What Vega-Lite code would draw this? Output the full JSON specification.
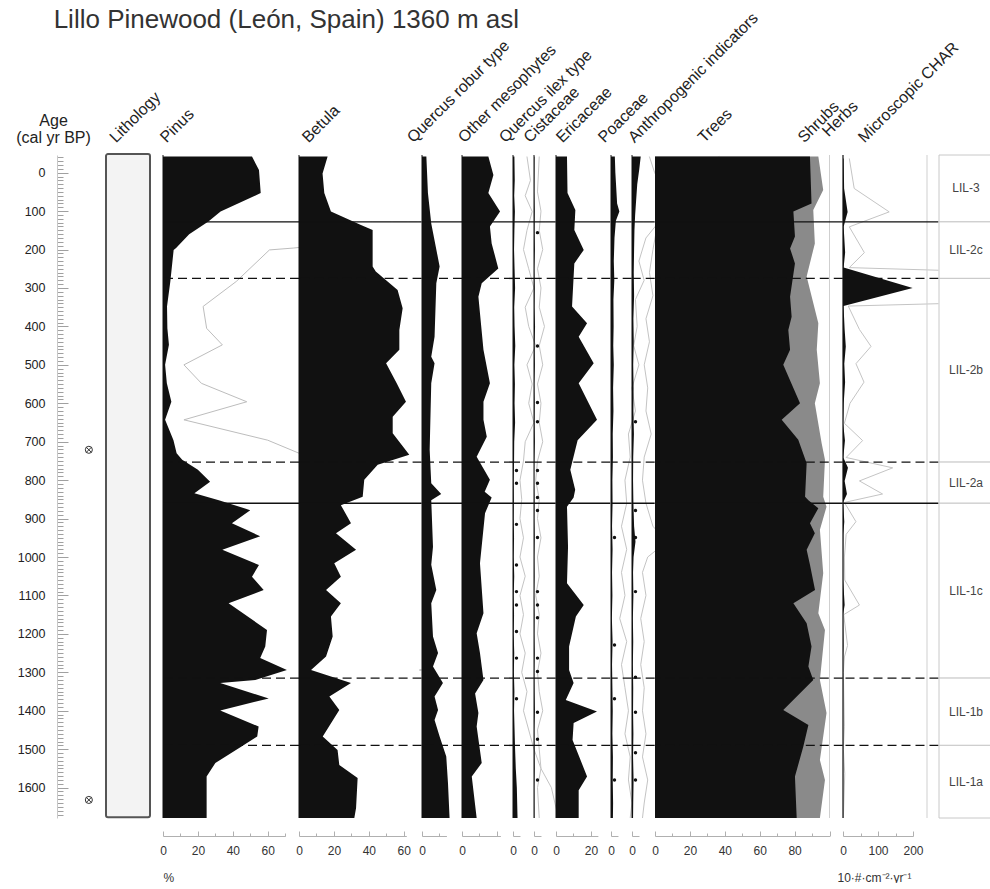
{
"$schema":"https://vega.github.io/schema/vega-lite/v6.json",
"padding":{"left":15,"top":7,"right":0,"bottom":0},
"background":"white",
"title":{"text":"Lillo Pinewood (León, Spain) 1360 m asl","anchor":"start","frame":"bounds","fontSize":26,"fontWeight":"normal","color":"#333","baseline":"alphabetic","offset":-45,"dx":38},
"datasets":{
"pollen":[
{"t":"Pinus","a":-42,"v":51},{"t":"Pinus","a":-7,"v":55},{"t":"Pinus","a":53,"v":56},{"t":"Pinus","a":101,"v":33},{"t":"Pinus","a":127,"v":26},{"t":"Pinus","a":160,"v":15},{"t":"Pinus","a":196,"v":7.5},{"t":"Pinus","a":201,"v":6.1},{"t":"Pinus","a":283,"v":4.2},{"t":"Pinus","a":348,"v":2.3},{"t":"Pinus","a":405,"v":2.5},{"t":"Pinus","a":448,"v":3.4},{"t":"Pinus","a":500,"v":1.2},{"t":"Pinus","a":548,"v":2.2},{"t":"Pinus","a":596,"v":4.8},{"t":"Pinus","a":643,"v":1.2},{"t":"Pinus","a":696,"v":6},{"t":"Pinus","a":730,"v":7.8},{"t":"Pinus","a":747,"v":11},{"t":"Pinus","a":773,"v":20},{"t":"Pinus","a":804,"v":27},{"t":"Pinus","a":834,"v":18},{"t":"Pinus","a":852,"v":32},{"t":"Pinus","a":878,"v":50},{"t":"Pinus","a":912,"v":39.5},{"t":"Pinus","a":946,"v":55.7},{"t":"Pinus","a":981,"v":34},{"t":"Pinus","a":1021,"v":55},{"t":"Pinus","a":1051,"v":51},{"t":"Pinus","a":1086,"v":57.7},{"t":"Pinus","a":1120,"v":37.6},{"t":"Pinus","a":1190,"v":59.6},{"t":"Pinus","a":1233,"v":58.6},{"t":"Pinus","a":1263,"v":55.7},{"t":"Pinus","a":1294,"v":71},{"t":"Pinus","a":1320,"v":52.9},{"t":"Pinus","a":1328,"v":32.8},{"t":"Pinus","a":1368,"v":60.6},{"t":"Pinus","a":1399,"v":32.8},{"t":"Pinus","a":1441,"v":54.8},{"t":"Pinus","a":1467,"v":54},{"t":"Pinus","a":1493,"v":45},{"t":"Pinus","a":1536,"v":30},{"t":"Pinus","a":1571,"v":25},{"t":"Pinus","a":1679,"v":25},
{"t":"Betula","a":-42,"v":16.4},{"t":"Betula","a":2,"v":13.5},{"t":"Betula","a":53,"v":14.5},{"t":"Betula","a":101,"v":18.3},{"t":"Betula","a":136,"v":35.5},{"t":"Betula","a":149,"v":42.2},{"t":"Betula","a":244,"v":42.2},{"t":"Betula","a":257,"v":44},{"t":"Betula","a":305,"v":56.5},{"t":"Betula","a":353,"v":59.4},{"t":"Betula","a":409,"v":57.5},{"t":"Betula","a":461,"v":57.5},{"t":"Betula","a":496,"v":49.9},{"t":"Betula","a":548,"v":56},{"t":"Betula","a":596,"v":61.3},{"t":"Betula","a":635,"v":53.7},{"t":"Betula","a":678,"v":53.7},{"t":"Betula","a":734,"v":63.2},{"t":"Betula","a":760,"v":45.1},{"t":"Betula","a":799,"v":37.4},{"t":"Betula","a":843,"v":36.5},{"t":"Betula","a":865,"v":24},{"t":"Betula","a":912,"v":29.8},{"t":"Betula","a":938,"v":21.2},{"t":"Betula","a":981,"v":32.7},{"t":"Betula","a":1016,"v":20.2},{"t":"Betula","a":1051,"v":24},{"t":"Betula","a":1086,"v":15.5},{"t":"Betula","a":1120,"v":24},{"t":"Betula","a":1155,"v":18.3},{"t":"Betula","a":1207,"v":19.3},{"t":"Betula","a":1259,"v":15.5},{"t":"Betula","a":1294,"v":6.9},{"t":"Betula","a":1328,"v":29.8},{"t":"Betula","a":1363,"v":17.4},{"t":"Betula","a":1398,"v":23.1},{"t":"Betula","a":1467,"v":13.6},{"t":"Betula","a":1502,"v":22.1},{"t":"Betula","a":1541,"v":23.1},{"t":"Betula","a":1575,"v":33.6},{"t":"Betula","a":1653,"v":32.7},{"t":"Betula","a":1679,"v":31.7},
{"t":"Qrob","a":-42,"v":2.5},{"t":"Qrob","a":53,"v":3.4},{"t":"Qrob","a":132,"v":5.3},{"t":"Qrob","a":244,"v":10.1},{"t":"Qrob","a":288,"v":8.2},{"t":"Qrob","a":427,"v":7.2},{"t":"Qrob","a":479,"v":5.3},{"t":"Qrob","a":496,"v":7.2},{"t":"Qrob","a":548,"v":5.3},{"t":"Qrob","a":721,"v":4.4},{"t":"Qrob","a":808,"v":5.3},{"t":"Qrob","a":836,"v":11},{"t":"Qrob","a":852,"v":5.3},{"t":"Qrob","a":973,"v":6.3},{"t":"Qrob","a":1020,"v":5.3},{"t":"Qrob","a":1086,"v":8.2},{"t":"Qrob","a":1120,"v":5.3},{"t":"Qrob","a":1207,"v":6.3},{"t":"Qrob","a":1250,"v":9.2},{"t":"Qrob","a":1285,"v":6.3},{"t":"Qrob","a":1328,"v":12},{"t":"Qrob","a":1363,"v":7.2},{"t":"Qrob","a":1398,"v":9.2},{"t":"Qrob","a":1424,"v":7.2},{"t":"Qrob","a":1467,"v":10.1},{"t":"Qrob","a":1519,"v":13.9},{"t":"Qrob","a":1589,"v":14.9},{"t":"Qrob","a":1679,"v":15.8},
{"t":"Meso","a":-42,"v":15.1},{"t":"Meso","a":6,"v":18},{"t":"Meso","a":53,"v":15.1},{"t":"Meso","a":101,"v":21.8},{"t":"Meso","a":140,"v":16},{"t":"Meso","a":184,"v":17},{"t":"Meso","a":249,"v":20.8},{"t":"Meso","a":288,"v":11.3},{"t":"Meso","a":323,"v":9.4},{"t":"Meso","a":461,"v":12.3},{"t":"Meso","a":548,"v":16},{"t":"Meso","a":596,"v":12.3},{"t":"Meso","a":643,"v":12.3},{"t":"Meso","a":687,"v":14.2},{"t":"Meso","a":739,"v":8.4},{"t":"Meso","a":799,"v":16},{"t":"Meso","a":830,"v":13},{"t":"Meso","a":845,"v":17},{"t":"Meso","a":886,"v":13.2},{"t":"Meso","a":1016,"v":10.3},{"t":"Meso","a":1146,"v":12.3},{"t":"Meso","a":1198,"v":8.4},{"t":"Meso","a":1250,"v":10.3},{"t":"Meso","a":1320,"v":12.3},{"t":"Meso","a":1355,"v":7.5},{"t":"Meso","a":1406,"v":9.4},{"t":"Meso","a":1441,"v":8.4},{"t":"Meso","a":1536,"v":11.3},{"t":"Meso","a":1571,"v":5.6},{"t":"Meso","a":1679,"v":8.4},
{"t":"Qilex","a":-42,"v":0.8},{"t":"Qilex","a":20,"v":1.0},{"t":"Qilex","a":60,"v":0.7},{"t":"Qilex","a":101,"v":1.1},{"t":"Qilex","a":150,"v":0.8},{"t":"Qilex","a":200,"v":0.6},{"t":"Qilex","a":250,"v":0.9},{"t":"Qilex","a":300,"v":1.2},{"t":"Qilex","a":350,"v":0.7},{"t":"Qilex","a":400,"v":0.9},{"t":"Qilex","a":450,"v":1.3},{"t":"Qilex","a":500,"v":0.8},{"t":"Qilex","a":550,"v":1.1},{"t":"Qilex","a":600,"v":0.9},{"t":"Qilex","a":650,"v":1.2},{"t":"Qilex","a":700,"v":0.7},{"t":"Qilex","a":750,"v":0.6},{"t":"Qilex","a":800,"v":0.4},{"t":"Qilex","a":850,"v":0.5},{"t":"Qilex","a":900,"v":0.4},{"t":"Qilex","a":950,"v":0.6},{"t":"Qilex","a":1000,"v":0.4},{"t":"Qilex","a":1050,"v":0.7},{"t":"Qilex","a":1100,"v":0.4},{"t":"Qilex","a":1150,"v":0.6},{"t":"Qilex","a":1200,"v":0.4},{"t":"Qilex","a":1250,"v":0.7},{"t":"Qilex","a":1300,"v":0.5},{"t":"Qilex","a":1350,"v":0.8},{"t":"Qilex","a":1400,"v":0.6},{"t":"Qilex","a":1450,"v":0.9},{"t":"Qilex","a":1500,"v":1.2},{"t":"Qilex","a":1550,"v":1.6},{"t":"Qilex","a":1600,"v":2.2},{"t":"Qilex","a":1679,"v":2.6},
{"t":"Cist","a":-42,"v":0.3},{"t":"Cist","a":50,"v":0.2},{"t":"Cist","a":100,"v":0.4},{"t":"Cist","a":150,"v":0.3},{"t":"Cist","a":200,"v":0.5},{"t":"Cist","a":250,"v":0.2},{"t":"Cist","a":300,"v":0.4},{"t":"Cist","a":350,"v":0.3},{"t":"Cist","a":400,"v":0.6},{"t":"Cist","a":450,"v":0.3},{"t":"Cist","a":500,"v":0.5},{"t":"Cist","a":550,"v":0.2},{"t":"Cist","a":600,"v":0.4},{"t":"Cist","a":650,"v":0.3},{"t":"Cist","a":700,"v":0.5},{"t":"Cist","a":750,"v":0.2},{"t":"Cist","a":800,"v":0.1},{"t":"Cist","a":850,"v":0.3},{"t":"Cist","a":900,"v":0.2},{"t":"Cist","a":950,"v":0.4},{"t":"Cist","a":1000,"v":0.2},{"t":"Cist","a":1050,"v":0.3},{"t":"Cist","a":1100,"v":0.1},{"t":"Cist","a":1150,"v":0.3},{"t":"Cist","a":1200,"v":0.2},{"t":"Cist","a":1250,"v":0.4},{"t":"Cist","a":1300,"v":0.2},{"t":"Cist","a":1350,"v":0.3},{"t":"Cist","a":1400,"v":0.5},{"t":"Cist","a":1450,"v":0.2},{"t":"Cist","a":1500,"v":0.3},{"t":"Cist","a":1550,"v":0.4},{"t":"Cist","a":1600,"v":0.2},{"t":"Cist","a":1679,"v":0.3},
{"t":"Eric","a":-42,"v":6.3},{"t":"Eric","a":53,"v":6.6},{"t":"Eric","a":97,"v":11.1},{"t":"Eric","a":149,"v":10.5},{"t":"Eric","a":201,"v":15.9},{"t":"Eric","a":236,"v":10.5},{"t":"Eric","a":348,"v":9.2},{"t":"Eric","a":392,"v":17.8},{"t":"Eric","a":427,"v":13},{"t":"Eric","a":496,"v":21.6},{"t":"Eric","a":548,"v":13},{"t":"Eric","a":643,"v":23.5},{"t":"Eric","a":696,"v":12.4},{"t":"Eric","a":773,"v":8.2},{"t":"Eric","a":825,"v":11},{"t":"Eric","a":845,"v":10.1},{"t":"Eric","a":869,"v":6.3},{"t":"Eric","a":973,"v":6.9},{"t":"Eric","a":1068,"v":6.3},{"t":"Eric","a":1125,"v":15.9},{"t":"Eric","a":1155,"v":11.4},{"t":"Eric","a":1233,"v":7.5},{"t":"Eric","a":1294,"v":7.5},{"t":"Eric","a":1328,"v":10.1},{"t":"Eric","a":1372,"v":5.6},{"t":"Eric","a":1402,"v":23.5},{"t":"Eric","a":1432,"v":10.1},{"t":"Eric","a":1476,"v":9.5},{"t":"Eric","a":1571,"v":17.8},{"t":"Eric","a":1607,"v":13},{"t":"Eric","a":1679,"v":13},
{"t":"Poac","a":-42,"v":2.2},{"t":"Poac","a":0,"v":2.5},{"t":"Poac","a":40,"v":3.0},{"t":"Poac","a":80,"v":3.5},{"t":"Poac","a":101,"v":4.8},{"t":"Poac","a":125,"v":2.8},{"t":"Poac","a":170,"v":2.0},{"t":"Poac","a":230,"v":1.6},{"t":"Poac","a":280,"v":1.9},{"t":"Poac","a":330,"v":1.4},{"t":"Poac","a":400,"v":1.5},{"t":"Poac","a":450,"v":1.3},{"t":"Poac","a":500,"v":1.6},{"t":"Poac","a":560,"v":1.2},{"t":"Poac","a":620,"v":1.4},{"t":"Poac","a":680,"v":1.0},{"t":"Poac","a":740,"v":1.1},{"t":"Poac","a":800,"v":0.8},{"t":"Poac","a":860,"v":0.9},{"t":"Poac","a":920,"v":0.6},{"t":"Poac","a":980,"v":0.9},{"t":"Poac","a":1040,"v":0.6},{"t":"Poac","a":1100,"v":0.8},{"t":"Poac","a":1160,"v":0.5},{"t":"Poac","a":1220,"v":0.9},{"t":"Poac","a":1280,"v":0.6},{"t":"Poac","a":1340,"v":0.8},{"t":"Poac","a":1400,"v":1.0},{"t":"Poac","a":1460,"v":0.8},{"t":"Poac","a":1520,"v":1.1},{"t":"Poac","a":1580,"v":1.0},{"t":"Poac","a":1640,"v":1.2},{"t":"Poac","a":1679,"v":1.1},
{"t":"Anth","a":-42,"v":5.0},{"t":"Anth","a":-10,"v":4.2},{"t":"Anth","a":30,"v":3.0},{"t":"Anth","a":70,"v":2.4},{"t":"Anth","a":110,"v":1.8},{"t":"Anth","a":150,"v":1.4},{"t":"Anth","a":200,"v":1.2},{"t":"Anth","a":260,"v":1.0},{"t":"Anth","a":320,"v":1.2},{"t":"Anth","a":380,"v":0.8},{"t":"Anth","a":440,"v":1.0},{"t":"Anth","a":500,"v":0.7},{"t":"Anth","a":560,"v":0.9},{"t":"Anth","a":620,"v":0.8},{"t":"Anth","a":680,"v":1.1},{"t":"Anth","a":740,"v":0.7},{"t":"Anth","a":800,"v":0.6},{"t":"Anth","a":860,"v":0.8},{"t":"Anth","a":920,"v":1.2},{"t":"Anth","a":960,"v":2.0},{"t":"Anth","a":1000,"v":0.9},{"t":"Anth","a":1040,"v":0.6},{"t":"Anth","a":1100,"v":0.8},{"t":"Anth","a":1160,"v":0.5},{"t":"Anth","a":1220,"v":0.7},{"t":"Anth","a":1280,"v":0.5},{"t":"Anth","a":1340,"v":0.7},{"t":"Anth","a":1400,"v":0.6},{"t":"Anth","a":1460,"v":0.8},{"t":"Anth","a":1520,"v":0.6},{"t":"Anth","a":1580,"v":0.9},{"t":"Anth","a":1640,"v":0.7},{"t":"Anth","a":1679,"v":0.6},
{"t":"T","a":-42,"v":88.8},{"t":"T","a":80,"v":89.7},{"t":"T","a":101,"v":79.3},{"t":"T","a":166,"v":80.2},{"t":"T","a":197,"v":77.4},{"t":"T","a":236,"v":80.2},{"t":"T","a":323,"v":77.4},{"t":"T","a":375,"v":78.3},{"t":"T","a":409,"v":76.4},{"t":"T","a":461,"v":77.4},{"t":"T","a":500,"v":73.5},{"t":"T","a":600,"v":83.1},{"t":"T","a":643,"v":72.6},{"t":"T","a":695,"v":82.1},{"t":"T","a":756,"v":86.9},{"t":"T","a":843,"v":86},{"t":"T","a":852,"v":87.9},{"t":"T","a":873,"v":93.6},{"t":"T","a":912,"v":88.8},{"t":"T","a":938,"v":91.6},{"t":"T","a":981,"v":86.9},{"t":"T","a":1020,"v":88.8},{"t":"T","a":1086,"v":91.7},{"t":"T","a":1120,"v":79.3},{"t":"T","a":1172,"v":86.9},{"t":"T","a":1233,"v":89.7},{"t":"T","a":1285,"v":87.9},{"t":"T","a":1320,"v":90.7},{"t":"T","a":1398,"v":73.5},{"t":"T","a":1437,"v":87.9},{"t":"T","a":1493,"v":85},{"t":"T","a":1571,"v":80.2},{"t":"T","a":1679,"v":81.2},
{"t":"TS","a":-42,"v":93.6},{"t":"TS","a":45,"v":96.4},{"t":"TS","a":97,"v":90.7},{"t":"TS","a":184,"v":91.6},{"t":"TS","a":270,"v":86.9},{"t":"TS","a":392,"v":93.6},{"t":"TS","a":461,"v":92.7},{"t":"TS","a":548,"v":94.5},{"t":"TS","a":600,"v":91.6},{"t":"TS","a":704,"v":95.5},{"t":"TS","a":747,"v":97.4},{"t":"TS","a":843,"v":96.4},{"t":"TS","a":869,"v":98.3},{"t":"TS","a":929,"v":94.5},{"t":"TS","a":1042,"v":96.4},{"t":"TS","a":1146,"v":93.6},{"t":"TS","a":1190,"v":97.4},{"t":"TS","a":1320,"v":94.5},{"t":"TS","a":1406,"v":98.3},{"t":"TS","a":1528,"v":94.5},{"t":"TS","a":1580,"v":97.4},{"t":"TS","a":1679,"v":94.5},
{"t":"CHAR","a":-37,"v":1.8},{"t":"CHAR","a":41,"v":3.2},{"t":"CHAR","a":102,"v":13.2},{"t":"CHAR","a":141,"v":1.8},{"t":"CHAR","a":208,"v":6.1},{"t":"CHAR","a":247,"v":1.8},{"t":"CHAR","a":300,"v":199},{"t":"CHAR","a":347,"v":1.5},{"t":"CHAR","a":408,"v":4.7},{"t":"CHAR","a":452,"v":8},{"t":"CHAR","a":497,"v":3.7},{"t":"CHAR","a":545,"v":6},{"t":"CHAR","a":600,"v":2},{"t":"CHAR","a":652,"v":0.4},{"t":"CHAR","a":697,"v":5.6},{"t":"CHAR","a":741,"v":0.9},{"t":"CHAR","a":768,"v":14.2},{"t":"CHAR","a":802,"v":4.7},{"t":"CHAR","a":836,"v":11.3},{"t":"CHAR","a":858,"v":0.4},{"t":"CHAR","a":908,"v":3.7},{"t":"CHAR","a":941,"v":0.9},{"t":"CHAR","a":1000,"v":0.4},{"t":"CHAR","a":1060,"v":0.5},{"t":"CHAR","a":1125,"v":4.7},{"t":"CHAR","a":1150,"v":0.2},{"t":"CHAR","a":1230,"v":1.3},{"t":"CHAR","a":1260,"v":0.4},{"t":"CHAR","a":1300,"v":0.1},{"t":"CHAR","a":1440,"v":0.4},{"t":"CHAR","a":1500,"v":0.1},{"t":"CHAR","a":1564,"v":0.5},{"t":"CHAR","a":1679,"v":0.1}
],
"dots":[
{"t":"Cist","a":156},{"t":"Cist","a":451},{"t":"Cist","a":598},{"t":"Cist","a":648},{"t":"Cist","a":775},{"t":"Cist","a":808},{"t":"Cist","a":845},{"t":"Cist","a":879},{"t":"Cist","a":949},{"t":"Cist","a":1090},{"t":"Cist","a":1125},{"t":"Cist","a":1158},{"t":"Cist","a":1263},{"t":"Cist","a":1298},{"t":"Cist","a":1404},{"t":"Cist","a":1474},{"t":"Cist","a":1580},
{"t":"Qilex","a":775},{"t":"Qilex","a":808},{"t":"Qilex","a":915},{"t":"Qilex","a":1021},{"t":"Qilex","a":1090},{"t":"Qilex","a":1125},{"t":"Qilex","a":1194},{"t":"Qilex","a":1263},{"t":"Qilex","a":1369},
{"t":"Poac","a":949},{"t":"Poac","a":1229},{"t":"Poac","a":1369},{"t":"Poac","a":1580},
{"t":"Anth","a":648},{"t":"Anth","a":879},{"t":"Anth","a":949},{"t":"Anth","a":1090},{"t":"Anth","a":1313},{"t":"Anth","a":1404},{"t":"Anth","a":1509},{"t":"Anth","a":1580}
],
"zlines":[{"a":128,"s":"solid"},{"a":275,"s":"dashed"},{"a":753,"s":"dashed"},{"a":860,"s":"solid"},{"a":1315,"s":"dashed"},{"a":1490,"s":"dashed"}],
"zones":[{"z":"LIL-3","top":-46,"bot":128,"mid":41},{"z":"LIL-2c","top":128,"bot":275,"mid":201.5},{"z":"LIL-2b","top":275,"bot":753,"mid":514},{"z":"LIL-2a","top":753,"bot":860,"mid":806.5},{"z":"LIL-1c","top":860,"bot":1315,"mid":1087.5},{"z":"LIL-1b","top":1315,"bot":1490,"mid":1402.5},{"z":"LIL-1a","top":1490,"bot":1679,"mid":1584.5}],
"dates":[{"a":721},{"a":1632}],
"lith":[{"u":"peat","top":-48.6,"bot":1677}]
},
"spacing":0,
"bounds":"flush",
"resolve":{"scale":{"x":"independent","y":"independent"}},
"hconcat":[
{"width":49,"height":663,
 "data":{"name":"dates"},
 "layer":[
  {"mark":{"type":"point","shape":"circle","filled":false,"size":50,"stroke":"#333","strokeWidth":1,"opacity":1},
   "encoding":{
    "x":{"datum":0.65,"type":"quantitative","scale":{"domain":[0,1],"nice":false},
     "axis":{"orient":"top","values":[0,0.001],"labelExpr":"datum.value > 0 ? 'Age' : '(cal yr BP)'","labelAngle":0,"labelAlign":"center","labelBaseline":"alphabetic","labelOffset":-4,"ticks":false,"domain":false,"labelFontSize":16,"labelColor":"#222","labelPadding":{"condition":{"test":"datum.value > 0","value":30},"value":13},"title":null}},
    "y":{"field":"a","type":"quantitative","scale":{"domain":[-46,1679],"nice":false,"zero":false,"reverse":true},
     "axis":{"orient":"left","tickCount":172,"format":"d","labelExpr":"datum.value % 100 === 0 ? datum.label : ''","tickSize":{"condition":{"test":"datum.value % 100 === 0","value":-11},"value":-6},"tickColor":"#a0a0a0","domainColor":"#c8c8c8","labelPadding":23,"labelFontSize":12.5,"labelColor":"#222","title":null}}
   }},
  {"mark":{"type":"point","shape":"M-0.7,-0.7L0.7,0.7M-0.7,0.7L0.7,-0.7","filled":false,"size":50,"stroke":"#333","strokeWidth":1,"opacity":1},
   "encoding":{
    "x":{"datum":0.65,"type":"quantitative"},
    "y":{"field":"a","type":"quantitative"}
   }}
 ]},
{"width":56.7,"height":663,
 "data":{"name":"lith"},
 "mark":{"type":"rect","fill":"#f3f3f3","stroke":"#555","strokeWidth":2,"cornerRadius":2},
 "encoding":{
  "x":{"field":"u","type":"nominal","scale":{"paddingInner":0,"paddingOuter":0.1443,"align":0},
   "axis":{"orient":"top","labelExpr":"'Lithology'","labelAngle":-45,"labelAlign":"left","labelBaseline":"alphabetic","labelOffset":-12,"ticks":false,"domain":false,"labelFontSize":16,"labelColor":"#222","labelPadding":12,"title":null}},
  "y":{"field":"top","type":"quantitative","scale":{"domain":[-46,1679],"nice":false,"zero":false,"reverse":true},"axis":null},
  "y2":{"field":"bot"}
 }},
{"width":136,"height":663,
 "layer":[
  {"data":{"name":"pollen"},"transform":[{"filter":"datum.t === 'Pinus'"}],"mark":{"type":"line","color":"#bdbdbd","strokeWidth":1,"clip":true},
   "encoding":{"y":{"field":"a","type":"quantitative","scale":{"domain":[-46,1679],"nice":false,"zero":false,"reverse":true},"axis":null},"x":{"field":"v","type":"quantitative","scale":{"domain":[0,1],"range":[0,17.45],"nice":false},"axis":null},"order":{"field":"a","type":"quantitative"}}},
  {"data":{"name":"pollen"},"transform":[{"filter":"datum.t === 'Pinus'"}],"mark":{"type":"area","orient":"horizontal","color":"#111","clip":true},
   "encoding":{"y":{"field":"a","type":"quantitative","scale":{"domain":[-46,1679],"nice":false,"zero":false,"reverse":true},"axis":null},"x":{"field":"v","type":"quantitative","stack":null,"scale":{"domain":[0,70],"range":[0,122.15],"nice":false},
    "axis":{"orient":"bottom","offset":18,"values":[0,10,20,30,40,50,60,70],"format":"d","labelExpr":"datum.value % 20 === 0 ? datum.label : ''","tickSize":{"condition":{"test":"datum.value % 20 === 0","value":-5},"value":-3},"labelPadding":14,"title":"%","titleAnchor":"start","titleAlign":"left","titlePadding":14}}}},
  {"data":{"name":"pollen"},"transform":[{"filter":"datum.t === 'Pinus'"},{"aggregate":[{"op":"count","as":"n"}]}],"mark":{"type":"rule","color":"#111","strokeWidth":1},
   "encoding":{"x":{"datum":0,"type":"quantitative","scale":{"domain":[0,70],"range":[0,122.15],"nice":false},
    "axis":{"orient":"top","values":[0],"labelExpr":"'Pinus'","labelAngle":-45,"labelAlign":"left","labelBaseline":"alphabetic","labelOffset":3,"ticks":false,"domain":false,"labelFontSize":16,"labelColor":"#222","labelPadding":12,"title":null}}}},
  {"data":{"name":"zlines"},"mark":{"type":"rule","color":"#111","strokeWidth":1.4},"encoding":{"y":{"field":"a","type":"quantitative","scale":{"domain":[-46,1679],"nice":false,"zero":false,"reverse":true},"axis":null},"strokeDash":{"field":"s","type":"nominal","scale":{"domain":["solid","dashed"],"range":[[1,0],[9,5]]},"legend":null}}}
 ],
 "resolve":{"scale":{"x":"independent"}}},
{"width":122.6,"height":663,
 "layer":[
  {"data":{"name":"pollen"},"transform":[{"filter":"datum.t === 'Betula'"}],"mark":{"type":"line","color":"#bdbdbd","strokeWidth":1,"clip":true},
   "encoding":{"y":{"field":"a","type":"quantitative","scale":{"domain":[-46,1679],"nice":false,"zero":false,"reverse":true},"axis":null},"x":{"field":"v","type":"quantitative","scale":{"domain":[0,1],"range":[0,17.45],"nice":false},"axis":null},"order":{"field":"a","type":"quantitative"}}},
  {"data":{"name":"pollen"},"transform":[{"filter":"datum.t === 'Betula'"}],"mark":{"type":"area","orient":"horizontal","color":"#111","clip":true},
   "encoding":{"y":{"field":"a","type":"quantitative","scale":{"domain":[-46,1679],"nice":false,"zero":false,"reverse":true},"axis":null},"x":{"field":"v","type":"quantitative","stack":null,"scale":{"domain":[0,61.5],"range":[0,107.32],"nice":false},
    "axis":{"orient":"bottom","offset":18,"values":[0,10,20,30,40,50,60],"format":"d","labelExpr":"datum.value % 20 === 0 ? datum.label : ''","tickSize":{"condition":{"test":"datum.value % 20 === 0","value":-5},"value":-3},"labelPadding":14,"title":null}}}},
  {"data":{"name":"pollen"},"transform":[{"filter":"datum.t === 'Betula'"},{"aggregate":[{"op":"count","as":"n"}]}],"mark":{"type":"rule","color":"#111","strokeWidth":1},
   "encoding":{"x":{"datum":0,"type":"quantitative","scale":{"domain":[0,61.5],"range":[0,107.32],"nice":false},
    "axis":{"orient":"top","values":[0],"labelExpr":"'Betula'","labelAngle":-45,"labelAlign":"left","labelBaseline":"alphabetic","labelOffset":9,"ticks":false,"domain":false,"labelFontSize":16,"labelColor":"#222","labelPadding":12,"title":null}}}},
  {"data":{"name":"zlines"},"mark":{"type":"rule","color":"#111","strokeWidth":1.4},"encoding":{"y":{"field":"a","type":"quantitative","scale":{"domain":[-46,1679],"nice":false,"zero":false,"reverse":true},"axis":null},"strokeDash":{"field":"s","type":"nominal","scale":{"domain":["solid","dashed"],"range":[[1,0],[9,5]]},"legend":null}}}
 ],
 "resolve":{"scale":{"x":"independent"}}},
{"width":40,"height":663,
 "layer":[
  {"data":{"name":"pollen"},"transform":[{"filter":"datum.t === 'Qrob'"}],"mark":{"type":"area","orient":"horizontal","color":"#111","clip":true},
   "encoding":{"y":{"field":"a","type":"quantitative","scale":{"domain":[-46,1679],"nice":false,"zero":false,"reverse":true},"axis":null},"x":{"field":"v","type":"quantitative","stack":null,"scale":{"domain":[0,14],"range":[0,24.43],"nice":false},
    "axis":{"orient":"bottom","offset":18,"values":[0,10],"format":"d","labelExpr":"datum.value === 0 ? datum.label : ''","tickSize":{"condition":{"test":"datum.value === 0","value":-5},"value":-3},"labelPadding":14,"title":null}}}},
  {"data":{"name":"pollen"},"transform":[{"filter":"datum.t === 'Qrob'"},{"aggregate":[{"op":"count","as":"n"}]}],"mark":{"type":"rule","color":"#111","strokeWidth":1},
   "encoding":{"x":{"datum":0,"type":"quantitative","scale":{"domain":[0,14],"range":[0,24.43],"nice":false},
    "axis":{"orient":"top","values":[0],"labelExpr":"'Quercus robur type'","labelAngle":-45,"labelAlign":"left","labelBaseline":"alphabetic","labelOffset":-9,"ticks":false,"domain":false,"labelFontSize":16,"labelColor":"#222","labelPadding":12,"title":null}}}},
  {"data":{"name":"zlines"},"mark":{"type":"rule","color":"#111","strokeWidth":1.4},"encoding":{"y":{"field":"a","type":"quantitative","scale":{"domain":[-46,1679],"nice":false,"zero":false,"reverse":true},"axis":null},"strokeDash":{"field":"s","type":"nominal","scale":{"domain":["solid","dashed"],"range":[[1,0],[9,5]]},"legend":null}}}
 ],
 "resolve":{"scale":{"x":"independent"}}},
{"width":51,"height":663,
 "layer":[
  {"data":{"name":"pollen"},"transform":[{"filter":"datum.t === 'Meso'"}],"mark":{"type":"area","orient":"horizontal","color":"#111","clip":true},
   "encoding":{"y":{"field":"a","type":"quantitative","scale":{"domain":[-46,1679],"nice":false,"zero":false,"reverse":true},"axis":null},"x":{"field":"v","type":"quantitative","stack":null,"scale":{"domain":[0,22],"range":[0,38.39],"nice":false},
    "axis":{"orient":"bottom","offset":18,"values":[0,10,20],"format":"d","labelExpr":"datum.value === 0 ? datum.label : ''","tickSize":{"condition":{"test":"datum.value % 20 === 0","value":-5},"value":-3},"labelPadding":14,"title":null}}}},
  {"data":{"name":"pollen"},"transform":[{"filter":"datum.t === 'Meso'"},{"aggregate":[{"op":"count","as":"n"}]}],"mark":{"type":"rule","color":"#111","strokeWidth":1},
   "encoding":{"x":{"datum":0,"type":"quantitative","scale":{"domain":[0,22],"range":[0,38.39],"nice":false},
    "axis":{"orient":"top","values":[0],"labelExpr":"'Other mesophytes'","labelAngle":-45,"labelAlign":"left","labelBaseline":"alphabetic","labelOffset":2,"ticks":false,"domain":false,"labelFontSize":16,"labelColor":"#222","labelPadding":12,"title":null}}}},
  {"data":{"name":"zlines"},"mark":{"type":"rule","color":"#111","strokeWidth":1.4},"encoding":{"y":{"field":"a","type":"quantitative","scale":{"domain":[-46,1679],"nice":false,"zero":false,"reverse":true},"axis":null},"strokeDash":{"field":"s","type":"nominal","scale":{"domain":["solid","dashed"],"range":[[1,0],[9,5]]},"legend":null}}}
 ],
 "resolve":{"scale":{"x":"independent"}}},
{"width":21,"height":663,
 "layer":[
  {"data":{"name":"pollen"},"transform":[{"filter":"datum.t === 'Qilex'"}],"mark":{"type":"line","color":"#c4c4c4","strokeWidth":1,"clip":false},
   "encoding":{"y":{"field":"a","type":"quantitative","scale":{"domain":[-46,1679],"nice":false,"zero":false,"reverse":true},"axis":null},"x":{"field":"v","type":"quantitative","scale":{"domain":[0,1],"range":[0,17.45],"nice":false},"axis":null},"order":{"field":"a","type":"quantitative"}}},
  {"data":{"name":"pollen"},"transform":[{"filter":"datum.t === 'Qilex'"}],"mark":{"type":"area","orient":"horizontal","color":"#111"},
   "encoding":{"y":{"field":"a","type":"quantitative","scale":{"domain":[-46,1679],"nice":false,"zero":false,"reverse":true},"axis":null},"x":{"field":"v","type":"quantitative","stack":null,"scale":{"domain":[0,4],"range":[0,6.98],"nice":false},
    "axis":{"orient":"bottom","offset":18,"values":[0],"format":"d","tickSize":-5,"labelPadding":14,"title":null}}}},
  {"data":{"name":"pollen"},"transform":[{"filter":"datum.t === 'Qilex'"},{"aggregate":[{"op":"count","as":"n"}]}],"mark":{"type":"rule","color":"#111","strokeWidth":1},
   "encoding":{"x":{"datum":0,"type":"quantitative","scale":{"domain":[0,4],"range":[0,6.98],"nice":false},
    "axis":{"orient":"top","values":[0],"labelExpr":"'Quercus ilex type'","labelAngle":-45,"labelAlign":"left","labelBaseline":"alphabetic","labelOffset":-8,"ticks":false,"domain":false,"labelFontSize":16,"labelColor":"#222","labelPadding":12,"title":null}}}},
  {"data":{"name":"dots"},"transform":[{"filter":"datum.t === 'Qilex'"}],"mark":{"type":"point","filled":true,"size":12,"color":"#111","opacity":1},
   "encoding":{"y":{"field":"a","type":"quantitative","scale":{"domain":[-46,1679],"nice":false,"zero":false,"reverse":true},"axis":null},"x":{"datum":2,"type":"quantitative","scale":{"domain":[0,4],"range":[0,6.98],"nice":false},"axis":null}}},
  {"data":{"name":"zlines"},"mark":{"type":"rule","color":"#111","strokeWidth":1.4},"encoding":{"y":{"field":"a","type":"quantitative","scale":{"domain":[-46,1679],"nice":false,"zero":false,"reverse":true},"axis":null},"strokeDash":{"field":"s","type":"nominal","scale":{"domain":["solid","dashed"],"range":[[1,0],[9,5]]},"legend":null}}}
 ],
 "resolve":{"scale":{"x":"independent"}}},
{"width":21.7,"height":663,
 "layer":[
  {"data":{"name":"pollen"},"transform":[{"filter":"datum.t === 'Cist'"}],"mark":{"type":"line","color":"#c4c4c4","strokeWidth":1,"clip":false},
   "encoding":{"y":{"field":"a","type":"quantitative","scale":{"domain":[-46,1679],"nice":false,"zero":false,"reverse":true},"axis":null},"x":{"field":"v","type":"quantitative","scale":{"domain":[0,1],"range":[0,17.45],"nice":false},"axis":null},"order":{"field":"a","type":"quantitative"}}},
  {"data":{"name":"pollen"},"transform":[{"filter":"datum.t === 'Cist'"}],"mark":{"type":"area","orient":"horizontal","color":"#111"},
   "encoding":{"y":{"field":"a","type":"quantitative","scale":{"domain":[-46,1679],"nice":false,"zero":false,"reverse":true},"axis":null},"x":{"field":"v","type":"quantitative","stack":null,"scale":{"domain":[0,4],"range":[0,6.98],"nice":false},
    "axis":{"orient":"bottom","offset":18,"values":[0],"format":"d","tickSize":-5,"labelPadding":14,"title":null}}}},
  {"data":{"name":"pollen"},"transform":[{"filter":"datum.t === 'Cist'"},{"aggregate":[{"op":"count","as":"n"}]}],"mark":{"type":"rule","color":"#111","strokeWidth":1},
   "encoding":{"x":{"datum":0,"type":"quantitative","scale":{"domain":[0,4],"range":[0,6.98],"nice":false},
    "axis":{"orient":"top","values":[0],"labelExpr":"'Cistaceae'","labelAngle":-45,"labelAlign":"left","labelBaseline":"alphabetic","labelOffset":-4.5,"ticks":false,"domain":false,"labelFontSize":16,"labelColor":"#222","labelPadding":12,"title":null}}}},
  {"data":{"name":"dots"},"transform":[{"filter":"datum.t === 'Cist'"}],"mark":{"type":"point","filled":true,"size":12,"color":"#111","opacity":1},
   "encoding":{"y":{"field":"a","type":"quantitative","scale":{"domain":[-46,1679],"nice":false,"zero":false,"reverse":true},"axis":null},"x":{"datum":2,"type":"quantitative","scale":{"domain":[0,4],"range":[0,6.98],"nice":false},"axis":null}}},
  {"data":{"name":"zlines"},"mark":{"type":"rule","color":"#111","strokeWidth":1.4},"encoding":{"y":{"field":"a","type":"quantitative","scale":{"domain":[-46,1679],"nice":false,"zero":false,"reverse":true},"axis":null},"strokeDash":{"field":"s","type":"nominal","scale":{"domain":["solid","dashed"],"range":[[1,0],[9,5]]},"legend":null}}}
 ],
 "resolve":{"scale":{"x":"independent"}}},
{"width":54.3,"height":663,
 "layer":[
  {"data":{"name":"pollen"},"transform":[{"filter":"datum.t === 'Eric'"}],"mark":{"type":"area","orient":"horizontal","color":"#111","clip":true},
   "encoding":{"y":{"field":"a","type":"quantitative","scale":{"domain":[-46,1679],"nice":false,"zero":false,"reverse":true},"axis":null},"x":{"field":"v","type":"quantitative","stack":null,"scale":{"domain":[0,24],"range":[0,41.88],"nice":false},
    "axis":{"orient":"bottom","offset":18,"values":[0,10,20],"format":"d","labelExpr":"datum.value % 20 === 0 ? datum.label : ''","tickSize":{"condition":{"test":"datum.value % 20 === 0","value":-5},"value":-3},"labelPadding":14,"title":null}}}},
  {"data":{"name":"pollen"},"transform":[{"filter":"datum.t === 'Eric'"},{"aggregate":[{"op":"count","as":"n"}]}],"mark":{"type":"rule","color":"#111","strokeWidth":1},
   "encoding":{"x":{"datum":0,"type":"quantitative","scale":{"domain":[0,24],"range":[0,41.88],"nice":false},
    "axis":{"orient":"top","values":[0],"labelExpr":"'Ericaceae'","labelAngle":-45,"labelAlign":"left","labelBaseline":"alphabetic","labelOffset":6,"ticks":false,"domain":false,"labelFontSize":16,"labelColor":"#222","labelPadding":12,"title":null}}}},
  {"data":{"name":"zlines"},"mark":{"type":"rule","color":"#111","strokeWidth":1.4},"encoding":{"y":{"field":"a","type":"quantitative","scale":{"domain":[-46,1679],"nice":false,"zero":false,"reverse":true},"axis":null},"strokeDash":{"field":"s","type":"nominal","scale":{"domain":["solid","dashed"],"range":[[1,0],[9,5]]},"legend":null}}}
 ],
 "resolve":{"scale":{"x":"independent"}}},
{"width":20.7,"height":663,
 "layer":[
  {"data":{"name":"pollen"},"transform":[{"filter":"datum.t === 'Poac'"}],"mark":{"type":"line","color":"#c4c4c4","strokeWidth":1,"clip":false},
   "encoding":{"y":{"field":"a","type":"quantitative","scale":{"domain":[-46,1679],"nice":false,"zero":false,"reverse":true},"axis":null},"x":{"field":"v","type":"quantitative","scale":{"domain":[0,1],"range":[0,17.45],"nice":false},"axis":null},"order":{"field":"a","type":"quantitative"}}},
  {"data":{"name":"pollen"},"transform":[{"filter":"datum.t === 'Poac'"}],"mark":{"type":"area","orient":"horizontal","color":"#111"},
   "encoding":{"y":{"field":"a","type":"quantitative","scale":{"domain":[-46,1679],"nice":false,"zero":false,"reverse":true},"axis":null},"x":{"field":"v","type":"quantitative","stack":null,"scale":{"domain":[0,4],"range":[0,6.98],"nice":false},
    "axis":{"orient":"bottom","offset":18,"values":[0],"format":"d","tickSize":-5,"labelPadding":14,"title":null}}}},
  {"data":{"name":"pollen"},"transform":[{"filter":"datum.t === 'Poac'"},{"aggregate":[{"op":"count","as":"n"}]}],"mark":{"type":"rule","color":"#111","strokeWidth":1},
   "encoding":{"x":{"datum":0,"type":"quantitative","scale":{"domain":[0,4],"range":[0,6.98],"nice":false},
    "axis":{"orient":"top","values":[0],"labelExpr":"'Poaceae'","labelAngle":-45,"labelAlign":"left","labelBaseline":"alphabetic","labelOffset":-7,"ticks":false,"domain":false,"labelFontSize":16,"labelColor":"#222","labelPadding":12,"title":null}}}},
  {"data":{"name":"dots"},"transform":[{"filter":"datum.t === 'Poac'"}],"mark":{"type":"point","filled":true,"size":12,"color":"#111","opacity":1},
   "encoding":{"y":{"field":"a","type":"quantitative","scale":{"domain":[-46,1679],"nice":false,"zero":false,"reverse":true},"axis":null},"x":{"datum":2,"type":"quantitative","scale":{"domain":[0,4],"range":[0,6.98],"nice":false},"axis":null}}},
  {"data":{"name":"zlines"},"mark":{"type":"rule","color":"#111","strokeWidth":1.4},"encoding":{"y":{"field":"a","type":"quantitative","scale":{"domain":[-46,1679],"nice":false,"zero":false,"reverse":true},"axis":null},"strokeDash":{"field":"s","type":"nominal","scale":{"domain":["solid","dashed"],"range":[[1,0],[9,5]]},"legend":null}}}
 ],
 "resolve":{"scale":{"x":"independent"}}},
{"width":22.7,"height":663,
 "layer":[
  {"data":{"name":"pollen"},"transform":[{"filter":"datum.t === 'Anth'"}],"mark":{"type":"line","color":"#c4c4c4","strokeWidth":1,"clip":false},
   "encoding":{"y":{"field":"a","type":"quantitative","scale":{"domain":[-46,1679],"nice":false,"zero":false,"reverse":true},"axis":null},"x":{"field":"v","type":"quantitative","scale":{"domain":[0,1],"range":[0,17.45],"nice":false},"axis":null},"order":{"field":"a","type":"quantitative"}}},
  {"data":{"name":"pollen"},"transform":[{"filter":"datum.t === 'Anth'"}],"mark":{"type":"area","orient":"horizontal","color":"#111"},
   "encoding":{"y":{"field":"a","type":"quantitative","scale":{"domain":[-46,1679],"nice":false,"zero":false,"reverse":true},"axis":null},"x":{"field":"v","type":"quantitative","stack":null,"scale":{"domain":[0,4],"range":[0,6.98],"nice":false},
    "axis":{"orient":"bottom","offset":18,"values":[0],"format":"d","tickSize":-5,"labelPadding":14,"title":null}}}},
  {"data":{"name":"pollen"},"transform":[{"filter":"datum.t === 'Anth'"},{"aggregate":[{"op":"count","as":"n"}]}],"mark":{"type":"rule","color":"#111","strokeWidth":1},
   "encoding":{"x":{"datum":0,"type":"quantitative","scale":{"domain":[0,4],"range":[0,6.98],"nice":false},
    "axis":{"orient":"top","values":[0],"labelExpr":"'Anthropogenic indicators'","labelAngle":-45,"labelAlign":"left","labelBaseline":"alphabetic","labelOffset":2,"ticks":false,"domain":false,"labelFontSize":16,"labelColor":"#222","labelPadding":12,"title":null}}}},
  {"data":{"name":"dots"},"transform":[{"filter":"datum.t === 'Anth'"}],"mark":{"type":"point","filled":true,"size":12,"color":"#111","opacity":1},
   "encoding":{"y":{"field":"a","type":"quantitative","scale":{"domain":[-46,1679],"nice":false,"zero":false,"reverse":true},"axis":null},"x":{"datum":2,"type":"quantitative","scale":{"domain":[0,4],"range":[0,6.98],"nice":false},"axis":null}}},
  {"data":{"name":"zlines"},"mark":{"type":"rule","color":"#111","strokeWidth":1.4},"encoding":{"y":{"field":"a","type":"quantitative","scale":{"domain":[-46,1679],"nice":false,"zero":false,"reverse":true},"axis":null},"strokeDash":{"field":"s","type":"nominal","scale":{"domain":["solid","dashed"],"range":[[1,0],[9,5]]},"legend":null}}}
 ],
 "resolve":{"scale":{"x":"independent"}}},
{"width":187.8,"height":663,
 "layer":[
  {"data":{"name":"pollen"},"transform":[{"filter":"datum.t === 'TS'"}],"mark":{"type":"area","orient":"horizontal","color":"#8a8a8a"},
   "encoding":{"y":{"field":"a","type":"quantitative","scale":{"domain":[-46,1679],"nice":false,"zero":false,"reverse":true},"axis":null},"x":{"field":"v","type":"quantitative","stack":null,"scale":{"domain":[0,100],"range":[0,174.5],"nice":false},
    "axis":{"orient":"bottom","offset":18,"values":[0,10,20,30,40,50,60,70,80,90,100],"format":"d","labelExpr":"datum.value % 20 === 0 && datum.value < 100 ? datum.label : ''","tickSize":{"condition":{"test":"datum.value % 20 === 0","value":-5},"value":-3},"labelPadding":14,"title":null}}}},
  {"data":{"name":"pollen"},"transform":[{"filter":"datum.t === 'T'"}],"mark":{"type":"area","orient":"horizontal","color":"#111"},
   "encoding":{"y":{"field":"a","type":"quantitative","scale":{"domain":[-46,1679],"nice":false,"zero":false,"reverse":true},"axis":null},"x":{"field":"v","type":"quantitative","stack":null,"scale":{"domain":[0,100],"range":[0,174.5],"nice":false},"axis":null}}},
  {"data":{"name":"pollen"},"transform":[{"filter":"datum.t === 'T'"},{"aggregate":[{"op":"count","as":"n"}]}],"mark":{"type":"rule","color":"#cfcfcf","strokeWidth":1},
   "encoding":{"x":{"datum":100,"type":"quantitative","scale":{"domain":[0,100],"range":[0,174.5],"nice":false},
    "axis":{"orient":"top","values":[28,85.2,99.2],"labelExpr":"datum.value < 50 ? 'Trees' : (datum.value < 90 ? 'Shrubs' : 'Herbs')","labelAngle":-45,"labelAlign":"left","labelBaseline":"alphabetic","ticks":false,"domain":false,"labelFontSize":16,"labelColor":"#222","labelPadding":{"condition":{"test":"datum.value > 95","value":18},"value":12},"title":null}}}},
  {"data":{"name":"zlines"},"mark":{"type":"rule","color":"#111","strokeWidth":1.4},"encoding":{"y":{"field":"a","type":"quantitative","scale":{"domain":[-46,1679],"nice":false,"zero":false,"reverse":true},"axis":null},"strokeDash":{"field":"s","type":"nominal","scale":{"domain":["solid","dashed"],"range":[[1,0],[9,5]]},"legend":null}}}
 ],
 "resolve":{"scale":{"x":"independent"}}},
{"width":95.5,"height":663,
 "layer":[
  {"data":{"name":"pollen"},"transform":[{"filter":"datum.t === 'CHAR'"}],"mark":{"type":"line","color":"#c4c4c4","strokeWidth":1,"clip":true},
   "encoding":{"y":{"field":"a","type":"quantitative","scale":{"domain":[-46,1679],"nice":false,"zero":false,"reverse":true},"axis":null},"x":{"field":"v","type":"quantitative","scale":{"domain":[0,20],"range":[0,70],"nice":false},"axis":null},"order":{"field":"a","type":"quantitative"}}},
  {"data":{"name":"pollen"},"transform":[{"filter":"datum.t === 'CHAR'"}],"mark":{"type":"area","orient":"horizontal","color":"#111"},
   "encoding":{"y":{"field":"a","type":"quantitative","scale":{"domain":[-46,1679],"nice":false,"zero":false,"reverse":true},"axis":null},"x":{"field":"v","type":"quantitative","stack":null,"scale":{"domain":[0,200],"range":[0,70],"nice":false},
    "axis":{"orient":"bottom","offset":18,"values":[0,50,100,150,200],"format":"d","labelExpr":"datum.value % 100 === 0 ? datum.label : ''","tickSize":{"condition":{"test":"datum.value % 100 === 0","value":-5},"value":-3},"labelPadding":14,"title":"10·#·cm⁻²·yr⁻¹","titleAnchor":"start","titleAlign":"left","titleX":-6,"titlePadding":14}}}},
  {"data":{"name":"pollen"},"transform":[{"filter":"datum.t === 'CHAR'"},{"aggregate":[{"op":"count","as":"n"}]}],"mark":{"type":"rule","color":"#111","strokeWidth":1.2},
   "encoding":{"x":{"datum":0,"type":"quantitative","scale":{"domain":[0,200],"range":[0,70],"nice":false},
    "axis":{"orient":"top","values":[0],"labelExpr":"'Microscopic CHAR'","labelAngle":-45,"labelAlign":"left","labelBaseline":"alphabetic","labelOffset":21,"ticks":false,"domain":false,"labelFontSize":16,"labelColor":"#222","labelPadding":12,"title":null}}}},
  {"data":{"name":"pollen"},"transform":[{"filter":"datum.t === 'CHAR'"},{"aggregate":[{"op":"count","as":"n"}]}],"mark":{"type":"rule","color":"#cfcfcf","strokeWidth":1},
   "encoding":{"x":{"datum":240,"type":"quantitative","scale":{"domain":[0,200],"range":[0,70],"nice":false},"axis":null}}},
  {"data":{"name":"zlines"},"mark":{"type":"rule","color":"#111","strokeWidth":1.4},"encoding":{"y":{"field":"a","type":"quantitative","scale":{"domain":[-46,1679],"nice":false,"zero":false,"reverse":true},"axis":null},"strokeDash":{"field":"s","type":"nominal","scale":{"domain":["solid","dashed"],"range":[[1,0],[9,5]]},"legend":null}}}
 ],
 "resolve":{"scale":{"x":"independent"}}},
{"width":54,"height":663,
 "data":{"name":"zones"},
 "layer":[
  {"mark":{"type":"rect","fill":"white","stroke":"#c8c8c8","strokeWidth":1},
   "encoding":{"x":{"datum":"zone","type":"nominal","scale":{"paddingInner":0,"paddingOuter":0},"axis":null},"y":{"field":"top","type":"quantitative","scale":{"domain":[-46,1679],"nice":false,"zero":false,"reverse":true},"axis":null},"y2":{"field":"bot"}}},
  {"mark":{"type":"text","fontSize":12,"color":"#444"},
   "encoding":{"x":{"datum":"zone","type":"nominal","axis":null},"y":{"field":"mid","type":"quantitative","axis":null},"text":{"field":"z"}}}
 ]}
],
"config":{
 "view":{"stroke":null},
 "font":"Liberation Sans",
 "axis":{"labelFont":"Liberation Sans","labelFontSize":12,"labelColor":"#333","domainColor":"#b0b0b0","tickColor":"#b0b0b0","grid":false,"titleFont":"Liberation Sans","titleFontWeight":"normal","titleFontSize":12,"titleColor":"#333","labelOverlap":false,"labelFlush":false,"labelBound":false},
 "title":{"font":"Liberation Sans","fontWeight":"normal","color":"#222"}
}
}
